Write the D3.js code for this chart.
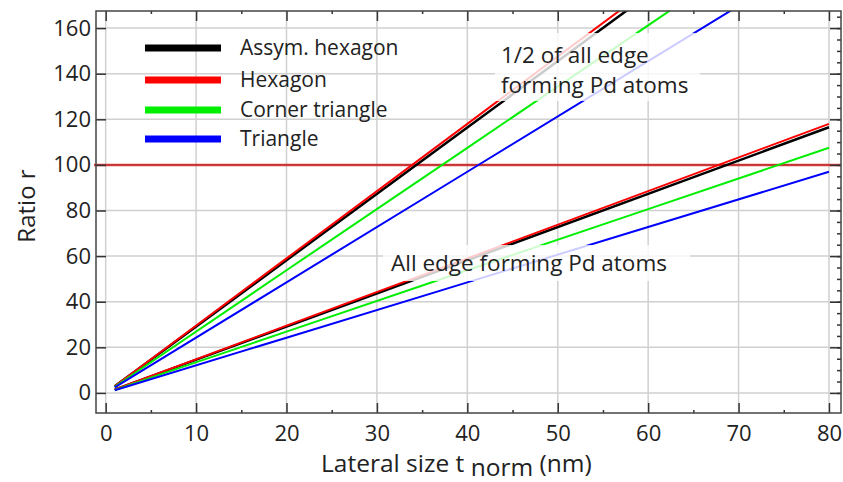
<!DOCTYPE html>
<html>
<head>
<meta charset="utf-8">
<script src="https://cdn.jsdelivr.net/npm/d3@7"></script>
<style>
  body { margin: 0; background: white; }
  svg text { font-family: "Open Sans", sans-serif; fill: #222; }
</style>
</head>
<body>
<div id="chart"></div>
<script>
// lateral size values where the curves were read
var tNorm = [1, 20, 40, 60, 80];

// ratio r, all edge forming Pd atoms
var allAssym = [1.45, 29.1, 58.2, 87.3, 116.5];
var allHexagon = [1.48, 29.5, 59.0, 88.5, 118.0];
var allCorner = [1.35, 26.9, 53.8, 80.6, 107.5];
var allTriangle = [1.21, 24.2, 48.5, 72.8, 97.0];

// ratio r, 1/2 of all edge forming Pd atoms
var halfAssym = [2.9, 58.2, 116.4, 174.6, 233.0];
var halfHexagon = [2.95, 59.0, 118.0, 177.0, 236.0];
var halfCorner = [2.7, 53.8, 107.5, 161.2, 215.0];
var halfTriangle = [2.42, 48.5, 97.0, 145.5, 194.0];

var seriesNames = ["Assym. hexagon", "Hexagon", "Corner triangle", "Triangle"];
var seriesColors = ["#000000", "#ff0000", "#00ee00", "#0000ff"];
var xTicks = [0, 10, 20, 30, 40, 50, 60, 70, 80];
var yTicks = [0, 20, 40, 60, 80, 100, 120, 140, 160];
var limitValue = 100;

width = 843;
height = 482;
plotLeft = 96;
plotRight = 841;
plotTop = 11;
plotBottom = 413;

svg = d3.select("#chart").append("svg")
    .attr("width", width)
    .attr("height", height);

x = d3.scaleLinear().domain([-1.07, 81.33]).range([plotLeft, plotRight]);
y = d3.scaleLinear().domain([-8.8, 167.5]).range([plotBottom, plotTop]);

svg.append("clipPath")
    .attr("id", "plotClip")
    .append("rect")
    .attr("x", plotLeft)
    .attr("y", plotTop)
    .attr("width", plotRight - plotLeft)
    .attr("height", plotBottom - plotTop);

// grid
gGrid = svg.append("g");
gGrid.selectAll(".vgrid").data(xTicks).enter().append("line")
    .attr("x1", function(d) { return x(d); })
    .attr("x2", function(d) { return x(d); })
    .attr("y1", plotTop)
    .attr("y2", plotBottom)
    .style("stroke", "#d0d0d0")
    .style("stroke-width", 1.5);
gGrid.selectAll(".hgrid").data(yTicks).enter().append("line")
    .attr("x1", plotLeft)
    .attr("x2", plotRight)
    .attr("y1", function(d) { return y(d); })
    .attr("y2", function(d) { return y(d); })
    .style("stroke", "#d0d0d0")
    .style("stroke-width", 1.5);

// limit line r = 100
svg.append("line")
    .attr("x1", plotLeft - 2)
    .attr("x2", plotRight)
    .attr("y1", y(limitValue))
    .attr("y2", y(limitValue))
    .style("stroke", "#e02020")
    .style("stroke-width", 2.5)
    .style("opacity", 0.8);
svg.append("line")
    .attr("x1", plotLeft - 2)
    .attr("x2", plotRight)
    .attr("y1", y(limitValue))
    .attr("y2", y(limitValue))
    .style("stroke", "#8a1010")
    .style("stroke-width", 0.8)
    .style("opacity", 0.6);

lineGen = d3.line()
    .x(function(d, i) { return x(tNorm[i]); })
    .y(function(d) { return y(d); });

gLines = svg.append("g").attr("clip-path", "url(#plotClip)");
var allSeries = [allAssym, allHexagon, allCorner, allTriangle];
var halfSeries = [halfAssym, halfHexagon, halfCorner, halfTriangle];
[allSeries, halfSeries].forEach(function(group) {
    group.forEach(function(vals, i) {
        gLines.append("path")
            .attr("d", lineGen(vals))
            .style("fill", "none")
            .style("stroke", seriesColors[i])
            .style("stroke-width", i == 0 ? 2.5 : 2);
    });
});

// annotation boxes (semi transparent)
svg.append("rect")
    .attr("x", 495).attr("y", 33)
    .attr("width", 205).attr("height", 68)
    .style("fill", "white").style("opacity", 0.8);
svg.append("rect")
    .attr("x", 383).attr("y", 245)
    .attr("width", 307).attr("height", 36)
    .style("fill", "white").style("opacity", 0.8);

svg.append("text").attr("x", 501).attr("y", 63)
    .style("font-size", "22.5px").text("1/2 of all edge");
svg.append("text").attr("x", 501).attr("y", 93)
    .style("font-size", "22.5px").text("forming Pd atoms");
svg.append("text").attr("x", 391).attr("y", 271)
    .style("font-size", "22.5px").text("All edge forming Pd atoms");

// axes
xAxisBottom = d3.axisBottom(x).tickValues(xTicks).tickSize(-10).tickPadding(12);
xAxisTop = d3.axisTop(x).tickValues(xTicks).tickSize(-10).tickFormat("");
yAxisLeft = d3.axisLeft(y).tickValues(yTicks).tickSize(-10).tickPadding(5);
yAxisRight = d3.axisRight(y).tickValues(yTicks).tickSize(-11).tickFormat("");

var gx = svg.append("g").attr("transform", "translate(0," + plotBottom + ")").call(xAxisBottom);
var gxt = svg.append("g").attr("transform", "translate(0," + plotTop + ")").call(xAxisTop);
var gy = svg.append("g").attr("transform", "translate(" + plotLeft + ",0)").call(yAxisLeft);
var gyr = svg.append("g").attr("transform", "translate(" + plotRight + ",0)").call(yAxisRight);

// minor ticks
var xMinor = d3.range(5, 81, 10);
var yMinor = d3.range(0, 166, 5);
svg.append("g").attr("transform", "translate(0," + plotBottom + ")")
    .call(d3.axisBottom(x).tickValues(xMinor).tickSize(-3).tickFormat(""));
svg.append("g").attr("transform", "translate(0," + plotTop + ")")
    .call(d3.axisTop(x).tickValues(xMinor).tickSize(-3).tickFormat(""));
svg.append("g").attr("transform", "translate(" + plotRight + ",0)")
    .call(d3.axisRight(y).tickValues(yMinor).tickSize(-4).tickFormat(""));

svg.selectAll(".domain").remove();
svg.selectAll(".tick line").style("stroke", "#333").style("stroke-width", 1.5);
svg.selectAll(".tick text")
    .style("font-family", "Open Sans, sans-serif")
    .style("font-size", "22px")
    .style("fill", "#222");

// frame
svg.append("rect")
    .attr("x", plotLeft).attr("y", plotTop)
    .attr("width", plotRight - plotLeft)
    .attr("height", plotBottom - plotTop)
    .style("fill", "none")
    .style("stroke", "#444")
    .style("stroke-width", 1.5);

// legend
gLegend = svg.append("g");
var legendY = [48, 80, 110, 139];
seriesNames.forEach(function(name, i) {
    gLegend.append("rect")
        .attr("x", 145).attr("y", legendY[i] - 3.5)
        .attr("width", 76).attr("height", 7)
        .style("fill", seriesColors[i]);
    gLegend.append("text")
        .attr("x", 240).attr("y", legendY[i])
        .attr("dy", "0.35em")
        .style("font-size", "21px")
        .text(name);
});

// axis titles
svg.append("text")
    .attr("transform", "translate(35,206) rotate(-90)")
    .attr("text-anchor", "middle")
    .style("font-size", "24px")
    .text("Ratio r");

var xTitle = svg.append("text")
    .attr("x", 321).attr("y", 472)
    .style("font-size", "24.5px");
xTitle.append("tspan").text("Lateral size t ");
xTitle.append("tspan").attr("dy", 4).text("norm");
xTitle.append("tspan").attr("dy", -4).text(" (nm)");
</script>
</body>
</html>
